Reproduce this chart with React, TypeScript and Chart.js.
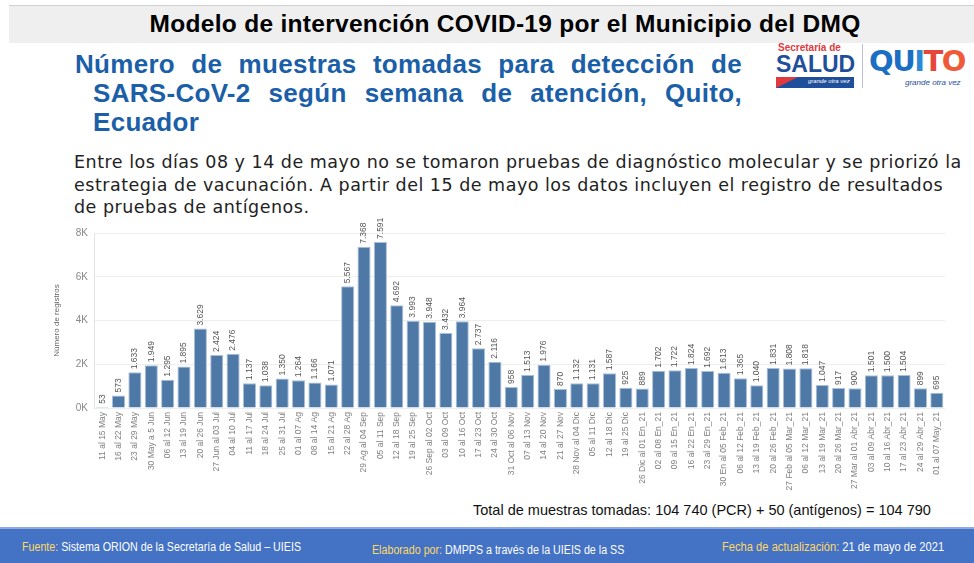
import React, { useEffect, useRef } from "react";
import { Chart, registerables } from "chart.js";

Chart.register(...registerables);

const weeks: string[] = [
  "11 al 15 May", "16 al 22 May", "23 al 29 May", "30 May a 5 Jun", "06 al 12 Jun",
  "13 al 19 Jun", "20 al 26 Jun", "27 Jun al 03 Jul", "04 al 10 Jul", "11 al 17 Jul",
  "18 al 24 Jul", "25 al 31 Jul", "01 al 07 Ag", "08 al 14 Ag", "15 al 21 Ag",
  "22 al 28 Ag", "29 Ag al 04 Sep", "05 al 11 Sep", "12 al 18 Sep", "19 al 25 Sep",
  "26 Sep al 02 Oct", "03 al 09 Oct", "10 al 16 Oct", "17 al 23 Oct", "24 al 30 Oct",
  "31 Oct al 06 Nov", "07 al 13 Nov", "14 al 20 Nov", "21 al 27 Nov", "28 Nov al 04 Dic",
  "05 al 11 Dic", "12 al 18 Dic", "19 al 25 Dic", "26 Dic al 01 En_21", "02 al 08 En_21",
  "09 al 15 En_21", "16 al 22 En_21", "23 al 29 En_21", "30 En al 05 Feb_21", "06 al 12 Feb_21",
  "13 al 19 Feb_21", "20 al 26 Feb_21", "27 Feb al 05 Mar_21", "06 al 12 Mar_21", "13 al 19 Mar_21",
  "20 al 26 Mar_21", "27 Mar al 01 Abr_21", "03 al 09 Abr_21", "10 al 16 Abr_21", "17 al 23 Abr_21",
  "24 al 29 Abr_21", "01 al 07 May_21",
];

const muestras: number[] = [
  53, 573, 1633, 1949, 1295, 1895, 3629, 2424, 2476, 1137,
  1038, 1350, 1264, 1166, 1071, 5567, 7368, 7591, 4692, 3993,
  3948, 3432, 3964, 2737, 2116, 958, 1513, 1976, 870, 1132,
  1131, 1587, 925, 889, 1702, 1722, 1824, 1692, 1613, 1365,
  1040, 1831, 1808, 1818, 1047, 917, 900, 1501, 1500, 1504,
  899, 695,
];

const yTicks: number[] = [0, 2000, 4000, 6000, 8000];

const NARROW = "'Liberation Sans Narrow', 'Liberation Sans', Arial, sans-serif";
const ARIAL = "'Liberation Sans', Arial, Helvetica, sans-serif";

function fmt(v: number): string {
  if (v < 1000) return String(v);
  const th = Math.floor(v / 1000);
  const rest = String(v % 1000).padStart(3, "0");
  return th + "." + rest;
}

const valueLabels = {
  id: "valueLabels",
  afterDatasetsDraw(chart: any) {
    const ctx = chart.ctx;
    const meta = chart.getDatasetMeta(0);
    ctx.save();
    ctx.font = "8.5px " + NARROW;
    ctx.fillStyle = "#555555";
    ctx.textAlign = "left";
    ctx.textBaseline = "middle";
    meta.data.forEach((bar: any, i: number) => {
      const v = chart.data.datasets[0].data[i] as number;
      ctx.save();
      ctx.translate(bar.x, bar.y - 3);
      ctx.rotate(-Math.PI / 2);
      ctx.fillText(fmt(v), 0, 0);
      ctx.restore();
    });
    ctx.restore();
  },
};

function BarChart() {
  const ref = useRef<HTMLCanvasElement | null>(null);
  useEffect(() => {
    if (!ref.current) return;
    const chart = new Chart(ref.current, {
      type: "bar",
      data: {
        labels: weeks,
        datasets: [
          {
            data: muestras,
            backgroundColor: "#4e79a7",
            borderColor: "#a9bfd8",
            borderWidth: 1,
            barPercentage: 0.8,
            categoryPercentage: 1,
          },
        ],
      },
      options: {
        animation: false,
        responsive: false,
        maintainAspectRatio: false,
        layout: { padding: { top: 21, right: 15, left: 0, bottom: 0 } },
        plugins: { legend: { display: false }, tooltip: { enabled: false } },
        scales: {
          x: {
            grid: { display: false, drawTicks: false },
            border: { display: false },
            ticks: {
              autoSkip: false,
              minRotation: 90,
              maxRotation: 90,
              padding: 4,
              color: "#808080",
              font: { size: 8.5, family: NARROW },
            },
            afterFit(scale: any) {
              scale.height = 84;
            },
          },
          y: {
            min: 0,
            max: 8000,
            afterBuildTicks(scale: any) {
              scale.ticks = yTicks.map((v) => ({ value: v }));
            },
            grid: { color: "#eeeeee", drawTicks: false },
            border: { display: true, color: "#e3e3e3" },
            ticks: {
              padding: 6,
              color: "#888888",
              font: { size: 10, family: ARIAL },
              callback: (v: any) => Number(v) / 1000 + "K",
            },
            title: {
              display: true,
              text: "Número de registros",
              color: "#666666",
              font: { size: 8, family: NARROW },
              padding: { top: 8, bottom: 0 },
            },
            afterFit(scale: any) {
              scale.width = 50;
            },
          },
        },
      },
      plugins: [valueLabels],
    });
    return () => chart.destroy();
  }, []);
  return (
    <canvas
      ref={ref}
      width={916}
      height={280}
      style={{ position: "absolute", left: 44, top: 212, width: 916, height: 280 }}
    />
  );
}

const footText = {
  position: "absolute" as const,
  fontSize: 12,
  fontFamily: ARIAL,
  color: "#ffffff",
  whiteSpace: "nowrap" as const,
  transform: "scaleX(0.89)",
  transformOrigin: "left center",
};

export default function App() {
  const yellow = "#ffd966";
  return (
    <div
      style={{
        position: "fixed",
        left: 0,
        top: 0,
        width: 974,
        height: 563,
        background: "#ffffff",
        overflow: "hidden",
        fontFamily: ARIAL,
      }}
    >
      {/* header band */}
      <div style={{ position: "absolute", left: 9, top: 5, width: 965, height: 1, background: "#cfcfcf" }} />
      <div style={{ position: "absolute", left: 9, top: 6, width: 965, height: 37, background: "#efefef" }} />
      <div
        style={{
          position: "absolute",
          left: 140,
          top: 8,
          width: 730,
          textAlign: "center",
          fontSize: 24.5,
          letterSpacing: 0.3,
          lineHeight: "32px",
          fontWeight: "bold",
          color: "#000",
          whiteSpace: "nowrap",
        }}
      >
        Modelo de intervención COVID-19 por el Municipio del DMQ
      </div>

      {/* blue title */}
      <div
        style={{
          position: "absolute",
          left: 75,
          top: 50,
          width: 667,
          fontSize: 26,
          letterSpacing: 0.3,
          lineHeight: "29px",
          fontWeight: "bold",
          color: "#1b5fa8",
        }}
      >
        <div style={{ textAlign: "justify", textAlignLast: "justify", whiteSpace: "nowrap" as any }}>
          Número de muestras tomadas para detección de
        </div>
        <div style={{ marginLeft: 18, textAlign: "justify", textAlignLast: "justify", whiteSpace: "nowrap" as any }}>
          SARS-CoV-2 según semana de atención, Quito,
        </div>
        <div style={{ marginLeft: 18 }}>Ecuador</div>
      </div>

      {/* logos */}
      <div style={{ position: "absolute", left: 776, top: 42, width: 80, height: 50 }}>
        <div style={{ fontSize: 10, fontWeight: "bold", color: "#e03a3e", lineHeight: "11px", marginLeft: 2 }}>
          Secretaría de
        </div>
        <div style={{ fontSize: 23, fontWeight: 900, color: "#1f4e9a", lineHeight: "22px", letterSpacing: 0 }}>
          SALUD
        </div>
        <div style={{ position: "relative", height: 12, marginTop: 2 }}>
          <div style={{ position: "absolute", left: 0, top: 0, width: 78, height: 11, background: "#1f4e9a" }} />
          <div
            style={{
              position: "absolute",
              left: 0,
              top: 0,
              width: 0,
              height: 0,
              borderTop: "11px solid #e03a3e",
              borderRight: "22px solid transparent",
            }}
          />
          <div
            style={{
              position: "absolute",
              left: 32,
              top: 1,
              fontSize: 6,
              fontStyle: "italic",
              color: "#ffffff",
              whiteSpace: "nowrap",
            }}
          >
            grande otra vez
          </div>
        </div>
      </div>
      <div style={{ position: "absolute", left: 862, top: 44, width: 1, height: 44, background: "#b8c4d6" }} />
      <div
        style={{
          position: "absolute",
          left: 869,
          top: 43,
          fontSize: 29,
          fontWeight: 900,
          lineHeight: "36px",
          fontFamily: "'DejaVu Sans', sans-serif",
          letterSpacing: -1.5,
          whiteSpace: "nowrap",
        }}
      >
        <span style={{ color: "#1a6fc4" }}>QU</span>
        <span style={{ color: "#2a8ad8" }}>I</span>
        <span style={{ color: "#e5483b" }}>T</span>
        <span style={{ color: "#ef5a3a" }}>O</span>
      </div>
      <div
        style={{
          position: "absolute",
          left: 905,
          top: 78,
          fontSize: 8,
          fontStyle: "italic",
          color: "#1f4e9a",
          whiteSpace: "nowrap",
        }}
      >
        grande otra vez
      </div>

      {/* paragraph */}
      <div
        style={{
          position: "absolute",
          left: 74,
          top: 151,
          fontSize: 17.5,
          letterSpacing: 0.5,
          lineHeight: "22.5px",
          color: "#222222",
          fontFamily: "'DejaVu Sans', sans-serif",
          whiteSpace: "nowrap",
        }}
      >
        Entre los días 08 y 14 de mayo no se tomaron pruebas de diagnóstico molecular y se priorizó la
        <br />
        estrategia de vacunación. A partir del 15 de mayo los datos incluyen el registro de resultados
        <br />
        de pruebas de antígenos.
      </div>

      <BarChart />

      {/* total */}
      <div
        style={{
          position: "absolute",
          left: 473,
          top: 501,
          fontSize: 14.5,
          lineHeight: "18px",
          color: "#111111",
          whiteSpace: "nowrap",
        }}
      >
        Total de muestras tomadas: 104 740 (PCR) + 50 (antígenos) = 104 790
      </div>

      {/* footer */}
      <div style={{ position: "absolute", left: 0, top: 527, width: 974, height: 2, background: "#8faadc" }} />
      <div style={{ position: "absolute", left: 0, top: 529, width: 974, height: 34, background: "#4472c4" }} />
      <div style={{ ...footText, left: 22, top: 540 }}>
        <span style={{ color: yellow }}>Fuente:</span> Sistema ORION de la Secretaría de Salud – UIEIS
      </div>
      <div style={{ ...footText, left: 372, top: 543 }}>
        <span style={{ color: yellow }}>Elaborado por:</span> DMPPS a través de la UIEIS de la SS
      </div>
      <div style={{ ...footText, left: 722, top: 540, transform: "scaleX(0.93)" }}>
        <span style={{ color: yellow }}>Fecha de actualización:</span> 21 de mayo de 2021
      </div>
    </div>
  );
}
